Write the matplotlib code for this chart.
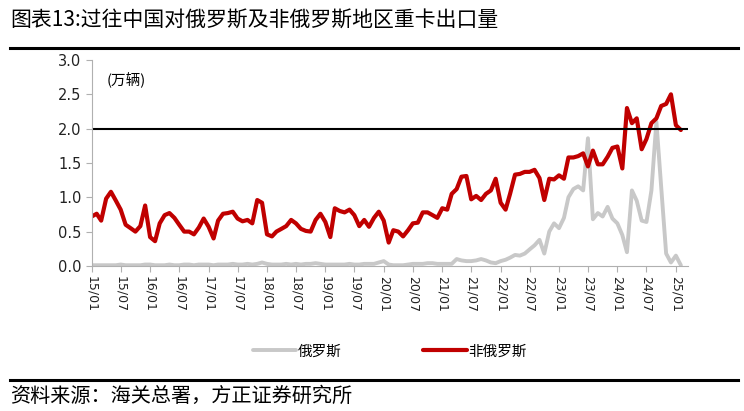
import matplotlib.pyplot as plt
import matplotlib.dates as mdates
import numpy as np
import pandas as pd

plt.rcParams['font.family'] = ['Noto Sans CJK SC', 'DejaVu Sans']

# monthly export volume, 10k units, 2015/01 - 2025/02
months = pd.date_range('2015-01-01', periods=122, freq='MS')

non_russia = [
    0.72, 0.76, 0.66, 0.98, 1.08, 0.95, 0.82, 0.60, 0.55, 0.50, 0.58, 0.88,
    0.42, 0.36, 0.62, 0.74, 0.77, 0.70, 0.60, 0.50, 0.50, 0.46, 0.56, 0.69,
    0.57, 0.40, 0.66, 0.76, 0.77, 0.79, 0.69, 0.65, 0.67, 0.62, 0.96, 0.92,
    0.46, 0.43, 0.50, 0.54, 0.58, 0.67, 0.62, 0.54, 0.51, 0.50, 0.67, 0.76,
    0.64, 0.42, 0.84, 0.80, 0.78, 0.82, 0.74, 0.58, 0.67, 0.57, 0.70, 0.79,
    0.66, 0.34, 0.52, 0.50, 0.43, 0.52, 0.62, 0.63, 0.78, 0.78, 0.74, 0.70,
    0.84, 0.82, 1.05, 1.12, 1.30, 1.31, 0.97, 1.02, 0.96, 1.05, 1.10, 1.27,
    0.92, 0.82, 1.05, 1.33, 1.34, 1.37, 1.37, 1.40, 1.28, 0.96, 1.27, 1.26,
    1.32, 1.27, 1.58, 1.58, 1.60, 1.64, 1.45, 1.68, 1.48, 1.48, 1.59, 1.72,
    1.74, 1.42, 2.30, 2.08, 2.15, 1.70, 1.85, 2.08, 2.15, 2.33, 2.36, 2.50,
    2.05, 1.98,
]

russia = [
    0.01, 0.01, 0.01, 0.01, 0.01, 0.01, 0.02, 0.01, 0.01, 0.01, 0.01, 0.02,
    0.02, 0.01, 0.01, 0.01, 0.02, 0.01, 0.01, 0.02, 0.02, 0.01, 0.02, 0.02,
    0.02, 0.01, 0.02, 0.02, 0.02, 0.03, 0.02, 0.02, 0.03, 0.02, 0.03, 0.05,
    0.03, 0.02, 0.02, 0.02, 0.03, 0.02, 0.03, 0.02, 0.03, 0.03, 0.04, 0.03,
    0.02, 0.02, 0.02, 0.02, 0.02, 0.03, 0.02, 0.02, 0.03, 0.03, 0.03, 0.05,
    0.07, 0.02, 0.01, 0.01, 0.01, 0.02, 0.03, 0.03, 0.03, 0.04, 0.04, 0.03,
    0.03, 0.03, 0.03, 0.10, 0.08, 0.07, 0.07, 0.08, 0.10, 0.08, 0.05, 0.04,
    0.07, 0.09, 0.12, 0.16, 0.15, 0.18, 0.24, 0.30, 0.38, 0.18, 0.50, 0.62,
    0.55, 0.70, 1.00, 1.12, 1.16, 1.10, 1.86, 0.68, 0.77, 0.72, 0.86, 0.69,
    0.62, 0.45, 0.20, 1.10, 0.95, 0.66, 0.64, 1.10, 2.10, 1.15, 0.18, 0.05,
    0.15, 0.01,
]

ref_level = 2.0
title = '图表13:过往中国对俄罗斯及非俄罗斯地区重卡出口量'
source = '资料来源：海关总署，方正证券研究所'

fig = plt.figure(figsize=(7.44, 4.11), dpi=100)
ax = fig.add_axes([0.1233, 0.353, 0.8015, 0.501])

ax.plot(months, russia, color='#c8c8c8', lw=2.8, label='俄罗斯', solid_capstyle='round', solid_joinstyle='round')
ax.plot(months, non_russia, color='#c00000', lw=3.0, label='非俄罗斯', solid_capstyle='round', solid_joinstyle='round')
ax.axhline(ref_level, color='black', lw=1.5)

ax.set_ylim(0, 3.0)
ax.set_yticks(np.arange(0, 3.01, 0.5))
ax.yaxis.set_major_formatter(plt.FormatStrFormatter('%.1f'))
ax.set_xlim(months[0], months[-1] + pd.Timedelta(days=45))
ax.set_xticks(months[::6])
ax.xaxis.set_major_formatter(mdates.DateFormatter('%y/%m'))
plt.setp(ax.get_xticklabels(), rotation=270, ha='center', va='top', family='DejaVu Sans')
plt.setp(ax.get_yticklabels(), family='DejaVu Sans')

for s in ['top', 'right']:
    ax.spines[s].set_visible(False)
for s in ['left', 'bottom']:
    ax.spines[s].set_color('#b0b0b0')
ax.tick_params(axis='both', colors='#b0b0b0', length=4, width=0.8)
ax.tick_params(axis='y', labelcolor='#222222', labelsize=10.5)
ax.tick_params(axis='x', labelcolor='#222222', labelsize=9, pad=3)

ax.text(0.025, 0.94, '(万辆)', transform=ax.transAxes, fontsize=10.5, va='top')

ax.legend(loc='center', bbox_to_anchor=(0.5, -0.415), ncol=2, frameon=False,
          fontsize=10.5, handlelength=3.0, handletextpad=0.1, columnspacing=5.6)

fig.text(0.014, 0.952, title, fontsize=15, va='center')
fig.add_artist(plt.Line2D([0.013, 0.992], [0.884, 0.884], color='black', lw=2.2))
fig.add_artist(plt.Line2D([0.013, 0.992], [0.075, 0.075], color='black', lw=2.2))
fig.text(0.014, 0.035, source, fontsize=14.5, va='center', style='italic')

fig.savefig('out.png', dpi=100)
